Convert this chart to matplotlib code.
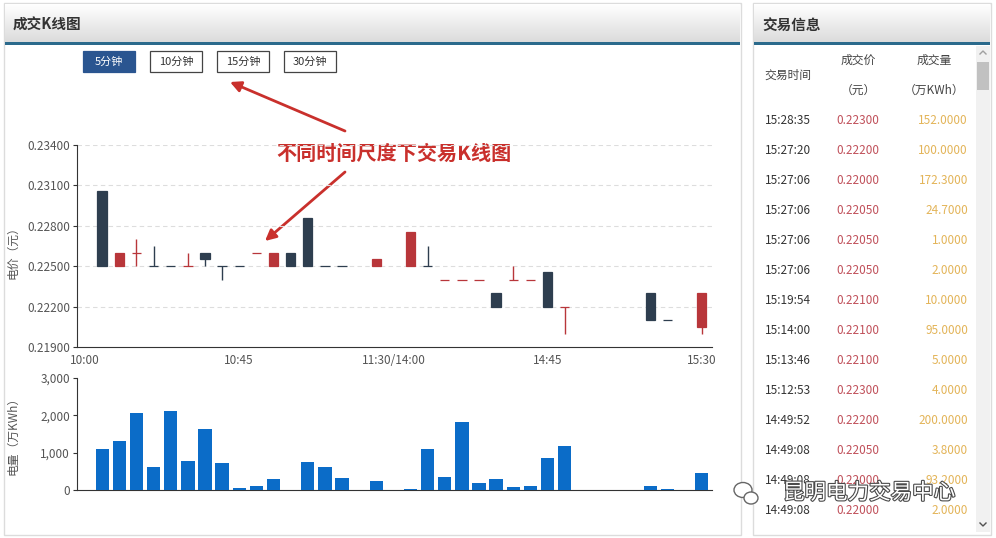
import matplotlib.pyplot as plt
import matplotlib.patheffects as pe
from matplotlib.patches import Rectangle, Ellipse
from matplotlib.ticker import FuncFormatter
import numpy as np

plt.rcParams['font.family'] = ['Noto Sans CJK SC', 'DejaVu Sans']

# 5-minute bars, slot 0 = 10:00, slot 18 = 11:30/14:00, slot 36 = 15:30
tick_pos = [0, 9, 18, 27, 36]
tick_labels = ["10:00", "10:45", "11:30/14:00", "14:45", "15:30"]
slots = list(range(1, 37))

nan = np.nan
opens = [0.2306, 0.2250, 0.2260, 0.2250, 0.2250, 0.2250, 0.2260, 0.2250, 0.2250, 0.2260,
         0.2250, 0.2260, 0.2286, 0.2250, 0.2250, nan, 0.2250, nan, 0.2250, 0.2250,
         0.2240, 0.2240, 0.2240, 0.2230, 0.2240, 0.2240, 0.22455, 0.2220, nan, nan,
         nan, nan, 0.2230, 0.2210, nan, 0.22045]
closes = [0.2250, 0.2260, 0.2260, 0.2250, 0.2250, 0.2250, 0.22550, 0.2250, 0.2250, 0.2260,
          0.2260, 0.2250, 0.2250, 0.2250, 0.2250, nan, 0.22555, nan, 0.22755, 0.2250,
          0.2240, 0.2240, 0.2240, 0.2220, 0.2240, 0.2240, 0.2220, 0.2220, nan, nan,
          nan, nan, 0.2210, 0.2210, nan, 0.2230]
highs = [0.2306, 0.2260, 0.2270, 0.2265, 0.2250, 0.2260, 0.2260, 0.2250, 0.2250, 0.2260,
         0.2260, 0.2260, 0.2286, 0.2250, 0.2250, nan, 0.22555, nan, 0.22755, 0.2265,
         0.2240, 0.2240, 0.2240, 0.2230, 0.2250, 0.2240, 0.22455, 0.2220, nan, nan,
         nan, nan, 0.2230, 0.2210, nan, 0.2230]
lows = [0.2250, 0.2250, 0.2250, 0.2250, 0.2250, 0.2250, 0.2250, 0.2240, 0.2250, 0.2260,
        0.2250, 0.2250, 0.2250, 0.2250, 0.2250, nan, 0.2250, nan, 0.2250, 0.2250,
        0.2240, 0.2240, 0.2240, 0.2220, 0.2240, 0.2240, 0.2220, 0.2200, nan, nan,
        nan, nan, 0.2210, 0.2210, nan, 0.2200]
# u = red (up), d = dark (down)
direction = ['d', 'u', 'u', 'd', 'd', 'u', 'd', 'd', 'd', 'u',
             'u', 'd', 'd', 'd', 'd', 'd', 'u', 'd', 'u', 'd',
             'u', 'u', 'u', 'd', 'u', 'u', 'd', 'u', 'd', 'd',
             'd', 'd', 'd', 'd', 'd', 'u']
volumes = [1100, 1320, 2070, 620, 2120, 780, 1625, 715, 60, 115,
           295, 0, 750, 615, 330, 0, 230, 0, 35, 1100,
           340, 1810, 195, 305, 80, 105, 850, 1180, 0, 0,
           0, 0, 115, 20, 0, 465]

price_ticks = [0.219, 0.222, 0.225, 0.228, 0.231, 0.234]
volume_ticks = [0, 1000, 2000, 3000]

buttons = ["5分钟", "10分钟", "15分钟", "30分钟"]

trade_times = ["15:28:35", "15:27:20", "15:27:06", "15:27:06", "15:27:06", "15:27:06", "15:19:54",
               "15:14:00", "15:13:46", "15:12:53", "14:49:52", "14:49:08", "14:49:08", "14:49:08"]
trade_prices = ["0.22300", "0.22200", "0.22000", "0.22050", "0.22050", "0.22050", "0.22100",
                "0.22100", "0.22100", "0.22300", "0.22200", "0.22050", "0.22000", "0.22000"]
trade_volumes = ["152.0000", "100.0000", "172.3000", "24.7000", "1.0000", "2.0000", "10.0000",
                 "95.0000", "5.0000", "4.0000", "200.0000", "3.8000", "93.2000", "2.0000"]

RED = '#b8363a'
DARK = '#2e3e4f'
BLUE = '#0b6cc8'
GREY = '#555555'

W, H = 996, 538
fig = plt.figure(figsize=(W / 100, H / 100), dpi=100)

# page background in pixel coordinates
bg = fig.add_axes([0, 0, 1, 1], zorder=0)
bg.set_xlim(0, W)
bg.set_ylim(H, 0)
bg.axis('off')

grad = np.linspace(1.0, 0.86, 50)[:, None, None] * np.ones((1, 2, 3))
for x0, x1, title in [(4, 741, "成交K线图"), (753, 991, "交易信息")]:
    bg.add_patch(Rectangle((x0, 3), x1 - x0, 532, facecolor='white', edgecolor='#dcdcdc', lw=1))
    bg.imshow(grad, extent=[x0 + 1, x1 - 1, 42, 4], aspect='auto', zorder=1)
    bg.add_patch(Rectangle((x0 + 1, 42), x1 - x0 - 2, 3, facecolor='#2b6a8c', lw=0, zorder=2))
    bg.text(x0 + 9, 25, title, fontsize=10.5, fontweight='bold', color='#333333', va='center', zorder=3)
bg.set_xlim(0, W)
bg.set_ylim(H, 0)

# period buttons
for i, label in enumerate(buttons):
    bx = 83 + i * 67
    active = i == 0
    bg.add_patch(Rectangle((bx, 51), 52, 21, facecolor='#2a5590' if active else 'white',
                           edgecolor='#2a5590' if active else '#444444', lw=0.9))
    bg.text(bx + 26, 61.5, label, fontsize=8, ha='center', va='center',
            color='white' if active else '#333333')

# annotation
bg.text(394, 153, "不同时间尺度下交易K线图", fontsize=14.5, fontweight='bold', color='#c9302c',
        ha='center', va='center', zorder=5)
arrow = dict(arrowstyle='-|>', color='#c9302c', lw=2, mutation_scale=16, shrinkA=0, shrinkB=0)
bg.annotate("", xy=(230, 82), xytext=(345, 131), arrowprops=arrow, zorder=5)
bg.annotate("", xy=(265, 241), xytext=(345, 172), arrowprops=arrow, zorder=5)

# axis titles
bg.text(13, 250, "电价（元）", rotation=90, fontsize=8.5, color=GREY, ha='center', va='center')
bg.text(13, 433, "电量（万KWh）", rotation=90, fontsize=8.5, color=GREY, ha='center', va='center')

# trade table
bg.text(788, 75, "交易时间", fontsize=8.5, color='#444444', ha='center', va='center')
bg.text(858, 60, "成交价", fontsize=8.5, color='#444444', ha='center', va='center')
bg.text(858, 90, "（元）", fontsize=8.5, color='#444444', ha='center', va='center')
bg.text(934, 60, "成交量", fontsize=8.5, color='#444444', ha='center', va='center')
bg.text(934, 90, "（万KWh）", fontsize=8.5, color='#444444', ha='center', va='center')
for i, (t, p, v) in enumerate(zip(trade_times, trade_prices, trade_volumes)):
    y = 120 + i * 30
    bg.text(788, y, t, fontsize=8.5, color='#333333', ha='center', va='center')
    bg.text(858, y, p, fontsize=8.5, color='#c0505a', ha='center', va='center')
    bg.text(968, y, v, fontsize=8.5, color='#e3b458', ha='right', va='center')

# scrollbar
bg.add_patch(Rectangle((976, 46), 14, 486, facecolor='#f1f1f1', lw=0))
bg.add_patch(Rectangle((977, 62), 12, 28, facecolor='#c1c1c1', lw=0))
bg.plot([980, 983, 986], [54, 51, 54], color='#a0a0a0', lw=1)
bg.plot([980, 983, 986], [523, 526, 523], color='#505050', lw=1)

# watermark
outline = [pe.Stroke(linewidth=1.6, foreground='#4a4a4a'), pe.Normal()]
bg.text(869, 493, "昆明电力交易中心", fontsize=15.5, color='white', ha='center', va='center',
        path_effects=outline, zorder=6)
bg.add_patch(Ellipse((743, 490), 18, 15, facecolor='white', edgecolor='#666666', lw=1, zorder=6))
bg.add_patch(Ellipse((751, 498), 14, 12, facecolor='white', edgecolor='#666666', lw=1, zorder=6))

# price chart
ax = fig.add_axes([77 / W, 1 - 347 / H, 635 / W, 202 / H], zorder=2)
ax.set_facecolor('none')
x = np.array(slots)
o = np.array(opens)
c = np.array(closes)
cols = [RED if d == 'u' else DARK for d in direction]
ax.vlines(x, lows, highs, colors=cols, lw=1, zorder=3)
ax.bar(x, np.abs(c - o), bottom=np.fmin(o, c), width=0.55, color=cols, edgecolor=cols,
       lw=0.9, zorder=4)
ax.set_xlim(-0.47, 36.6)
ax.set_ylim(0.219, 0.234)
ax.set_yticks(price_ticks)
ax.yaxis.set_major_formatter(FuncFormatter(lambda v, _: f"{v:.5f}"))
ax.set_xticks(tick_pos)
ax.set_xticklabels(tick_labels)
for t in price_ticks[1:]:
    ax.axhline(t, color='#dddddd', lw=0.8, ls=(0, (4, 3)), zorder=1)
for s in ['top', 'right']:
    ax.spines[s].set_visible(False)
for s in ['left', 'bottom']:
    ax.spines[s].set_color('#333333')
ax.tick_params(axis='y', length=3, color='#333333', labelsize=8.5, labelcolor=GREY, pad=2)
ax.tick_params(axis='x', length=0, labelsize=8.5, labelcolor=GREY, pad=5)

# volume chart
vx = fig.add_axes([77 / W, 1 - 490 / H, 635 / W, 112 / H], zorder=2)
vx.set_facecolor('none')
vx.bar(x, volumes, width=0.78, color=BLUE, zorder=3)
vx.set_xlim(-0.47, 36.6)
vx.set_ylim(0, 3000)
vx.set_yticks(volume_ticks)
vx.yaxis.set_major_formatter(FuncFormatter(lambda v, _: f"{int(v):,}"))
vx.set_xticks([])
for s in ['top', 'right']:
    vx.spines[s].set_visible(False)
for s in ['left', 'bottom']:
    vx.spines[s].set_color('#333333')
vx.tick_params(axis='y', length=3, color='#333333', labelsize=8.5, labelcolor=GREY, pad=2)

fig.savefig('out.png', dpi=100)
